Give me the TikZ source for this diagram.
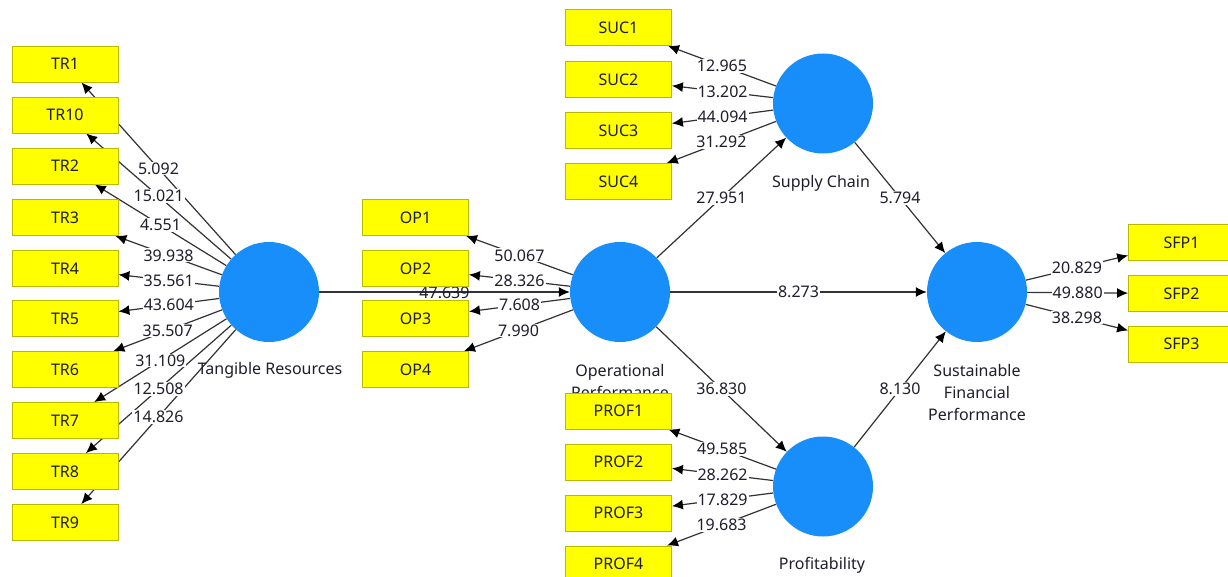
\documentclass[tikz,border=0pt]{standalone}
\usepackage{fontspec}
\setmainfont{Noto Sans}
\usetikzlibrary{arrows.meta}
\pgfdeclarelayer{bg}
\pgfdeclarelayer{lab}
\pgfsetlayers{bg,lab,main}
\definecolor{boxy}{RGB}{255,255,0}
\definecolor{boxb}{RGB}{185,185,0}
\definecolor{lvc}{RGB}{24,142,250}
\definecolor{ln}{RGB}{50,50,50}
\definecolor{tx}{RGB}{30,30,45}
\begin{document}
\begin{tikzpicture}[x=1pt,y=-1pt,
 font=\fontsize{16}{19}\selectfont,
 ind/.style={draw=boxb, fill=boxy, line width=0.8pt, minimum width=106pt, minimum height=36pt, inner sep=0pt, text=tx},
 lv/.style={circle, fill=lvc, minimum size=100pt, inner sep=0pt},
 arr/.style={draw=ln, line width=1.2pt, -{Latex[length=11pt,width=10pt,color=black]}},
 num/.style={fill=white, inner sep=1pt, text=tx},
 captxt/.style={text=tx, align=center, inner sep=0pt, font=\fontsize{16}{22}\selectfont}]
\begin{pgfonlayer}{bg}
\fill[white] (0,0) rectangle (1228,577);
\end{pgfonlayer}
\useasboundingbox (0,0) rectangle (1228,577);
% latent variables
\node[lv] (T) at (269,292) {};
\node[lv] (O) at (620,292) {};
\node[lv] (S) at (823,103.5) {};
\node[lv] (P) at (823,486.5) {};
\node[lv] (F) at (977,292) {};
% indicators
\foreach \n/\y in {TR1/64,TR10/115,TR2/166,TR3/217.5,TR4/268.5,TR5/318.5,TR6/369.5,TR7/420.5,TR8/471.5,TR9/522.5}
  \node[ind] (\n) at (65,\y) {\n};
\foreach \n/\y in {OP1/217.5,OP2/268.5,OP3/318.5,OP4/369.5}
  \node[ind] (\n) at (415.5,\y) {\n};
\foreach \n/\y in {SUC1/27.5,SUC2/79.5,SUC3/130.5,SUC4/181.5,PROF1/411,PROF2/462,PROF3/513,PROF4/564}
  \node[ind] (\n) at (618.5,\y) {\n};
\foreach \n/\y in {SFP1/242.5,SFP2/293.5,SFP3/344}
  \node[ind] (\n) at (1181.5,\y) {\n};
% captions
\begin{pgfonlayer}{lab}
\node[captxt] (cT) at (270,370) {Tangible Resources};
\node[captxt] (cO) at (620,381) {Operational\\Performance};
\node[captxt] (cS) at (821,183) {Supply Chain};
\node[captxt] (cP) at (822,565) {Profitability};
\node[captxt] (cF) at (977,392) {Sustainable\\Financial\\Performance};
\end{pgfonlayer}
% loadings and paths
\foreach \a/\b/\v in {T/TR1/5.092,T/TR10/15.021,T/TR2/4.551,T/TR3/39.938,T/TR4/35.561,T/TR5/43.604,T/TR6/35.507,T/TR7/31.109,T/TR8/12.508,T/TR9/14.826,
  O/OP1/50.067,O/OP2/28.326,O/OP3/7.608,O/OP4/7.990,
  S/SUC1/12.965,S/SUC2/13.202,S/SUC3/44.094,S/SUC4/31.292,
  P/PROF1/49.585,P/PROF2/28.262,P/PROF3/17.829,P/PROF4/19.683,
  F/SFP1/20.829,F/SFP2/49.880,F/SFP3/38.298,
  O/S/27.951,O/P/36.830,O/F/8.273,S/F/5.794,P/F/8.130}{
  \begin{pgfonlayer}{bg}\draw[arr] (\a) -- (\b);\end{pgfonlayer}
  \begin{pgfonlayer}{lab}\path (\a) -- node[num] (n\a\b) {\v} (\b);\end{pgfonlayer}
}
\begin{pgfonlayer}{bg}
\draw[arr] (T) -- node[text=tx, inner sep=0pt, yshift=-1pt] (nTO) {47.639} (O);
\end{pgfonlayer}
\end{tikzpicture}
\end{document}
